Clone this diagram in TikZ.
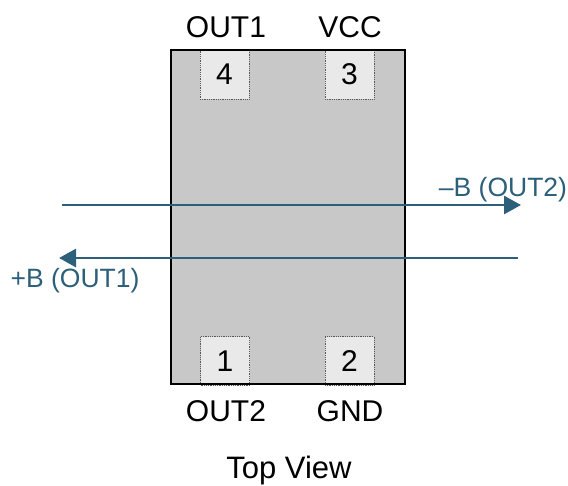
\documentclass[tikz,border=0pt]{standalone}
\usepackage{fontspec}
\setmainfont{Liberation Sans}
\usepackage{xcolor}
\usetikzlibrary{arrows.meta,positioning}
\definecolor{fieldblue}{HTML}{2B5F7A}
\definecolor{bodygray}{HTML}{C8C8C8}
\definecolor{padgray}{HTML}{E9E9E9}
\tikzset{%
	body/.style      = {fill=bodygray, draw=none},
	pad/.style       = {draw=black!65, densely dotted, line width=0.8pt, fill=padgray, minimum size=49pt, inner sep=0pt, font=\fontsize{30}{34}\selectfont},
	pinlabel/.style  = {anchor=base, inner sep=0pt, font=\fontsize{30}{34}\selectfont},
	fieldlabel/.style= {anchor=base, inner sep=0pt, text=fieldblue, font=\fontsize{26.5}{30}\selectfont},
	fieldarrow/.style= {draw=fieldblue, line width=2.8pt, -{Triangle[length=17pt,width=18pt]}},
}

\begin{document}
\begin{tikzpicture}[x=1pt,y=-1pt]
	\useasboundingbox (0,0) rectangle (568,485);
	\fill[body] (171,50) rectangle (405,384);  % package
	\node[pad] (pad4) at (224.5,74.5) {4};
	\node[pad] (pad3) at (349.5,74.5) {3};
	\node[pad] (pad1) at (225,361) {1};
	\node[pad] (pad2) at (349.5,361) {2};
	\draw[line width=2pt] (171,50) rectangle (405,384);
	\node[pinlabel] (out1) at (226,37) {OUT1};
	\node[pinlabel] (vcc) at (350,37) {VCC};
	\node[pinlabel] (out2) at (226,421) {OUT2};
	\node[pinlabel] (gnd) at (350,421) {GND};
	% field arrows
	\coordinate (negstart) at (62,205);
	\coordinate (negend) at (521,205);
	\coordinate (posstart) at (518,258);
	\coordinate (posend) at (59,258);
	\draw[fieldarrow] (negstart) -- (negend);
	\draw[fieldarrow] (posstart) -- (posend);
	\node[fieldlabel] (neglabel) at (503,196) {–B (OUT2)};
	\node[fieldlabel] (poslabel) at (75,287) {+B (OUT1)};
	\node[pinlabel, font=\fontsize{31}{35}\selectfont] (topview) at (289,478) {Top View};
\end{tikzpicture}
\end{document}
